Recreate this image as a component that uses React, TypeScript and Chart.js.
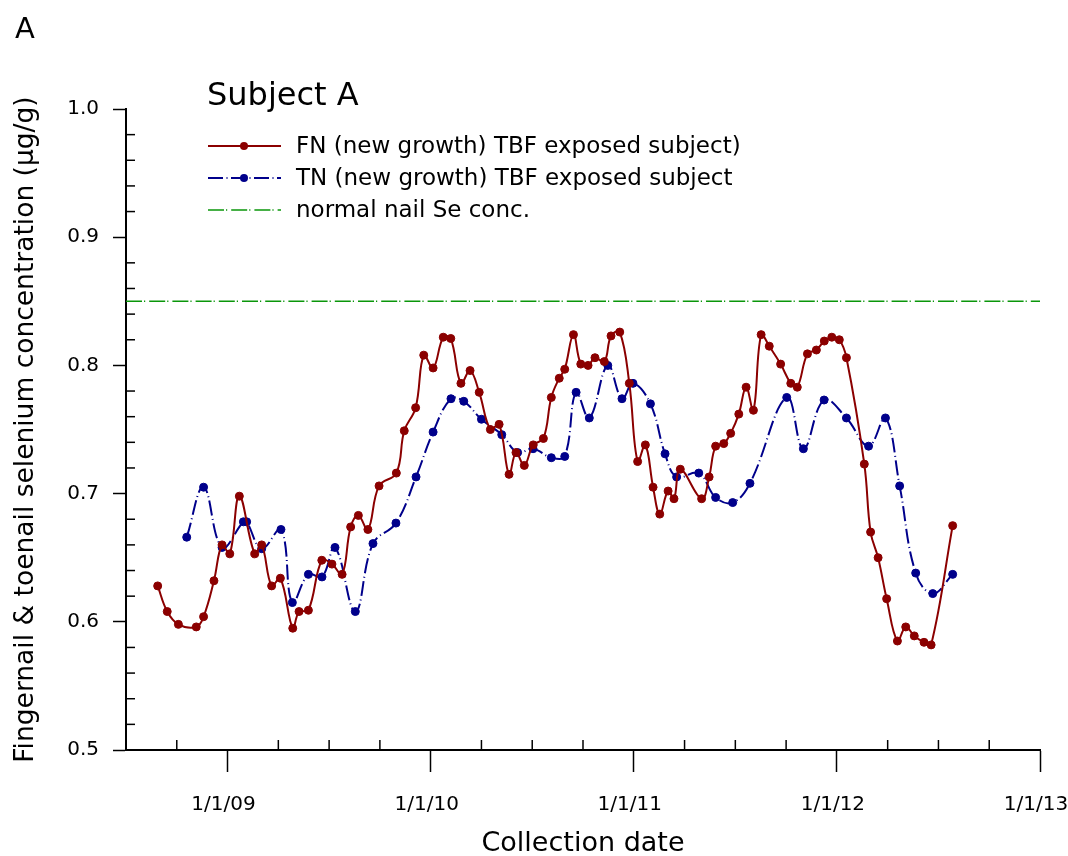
import React, { useEffect, useRef } from 'react';
import { Chart, registerables } from 'chart.js';

Chart.register(...registerables);

const panelLabel = 'A';
const chartTitle = 'Subject A';
const legendLabels = [
  'FN (new growth) TBF exposed subject)',
  'TN (new growth) TBF exposed subject',
  'normal nail Se conc.',
];
const xAxisTitle = 'Collection date';
const yAxisTitle = 'Fingernail & toenail selenium concentration (μg/g)';

const yearTicks = [2009, 2010, 2011, 2012, 2013];
const yearTickLabels = ['1/1/09', '1/1/10', '1/1/11', '1/1/12', '1/1/13'];

const fnDates = [
  2008.656, 2008.703, 2008.758, 2008.846, 2008.882, 2008.933, 2008.973, 2009.011, 2009.058,
  2009.134, 2009.168, 2009.217, 2009.26, 2009.321, 2009.352, 2009.398, 2009.464, 2009.514,
  2009.564, 2009.606, 2009.644, 2009.691, 2009.746, 2009.831, 2009.87, 2009.926, 2009.966,
  2010.012, 2010.062, 2010.099, 2010.149, 2010.194, 2010.239, 2010.294, 2010.337, 2010.386,
  2010.42, 2010.461, 2010.505, 2010.555, 2010.594, 2010.633, 2010.66, 2010.703, 2010.739,
  2010.775, 2010.809, 2010.855, 2010.888, 2010.931, 2010.978, 2011.019, 2011.057, 2011.095,
  2011.128, 2011.169, 2011.198, 2011.229, 2011.334, 2011.371, 2011.403, 2011.443, 2011.477,
  2011.517, 2011.553, 2011.589, 2011.627, 2011.667, 2011.723, 2011.773, 2011.805, 2011.855,
  2011.899, 2011.938, 2011.975, 2012.012, 2012.047, 2012.135, 2012.166, 2012.203, 2012.245,
  2012.298, 2012.339, 2012.381, 2012.429, 2012.464, 2012.57,
];
const fnValues = [
  0.628, 0.608, 0.598, 0.596, 0.604, 0.632, 0.66, 0.653, 0.698,
  0.653, 0.66, 0.628, 0.634, 0.595, 0.608, 0.609, 0.648, 0.645,
  0.637, 0.674, 0.683, 0.672, 0.706, 0.716, 0.749, 0.767, 0.808,
  0.798, 0.822, 0.821, 0.786, 0.796, 0.779, 0.75, 0.754, 0.715,
  0.732, 0.722, 0.738, 0.743, 0.775, 0.79, 0.797, 0.824, 0.801,
  0.8, 0.806, 0.803, 0.823, 0.826, 0.786, 0.725, 0.738, 0.705,
  0.684, 0.702, 0.696, 0.719, 0.696, 0.713, 0.737, 0.739, 0.747,
  0.762, 0.783, 0.765, 0.824, 0.815, 0.801, 0.786, 0.783, 0.809,
  0.812, 0.819, 0.822, 0.82, 0.806, 0.723, 0.67, 0.65, 0.618,
  0.585, 0.596, 0.589, 0.584, 0.582, 0.675,
];

const tnDates = [
  2008.799, 2008.882, 2008.973, 2009.078, 2009.094, 2009.168, 2009.263, 2009.319, 2009.398,
  2009.465, 2009.529, 2009.629, 2009.716, 2009.829, 2009.928, 2010.012, 2010.1, 2010.163,
  2010.25, 2010.35, 2010.428, 2010.504, 2010.594, 2010.66, 2010.716, 2010.781, 2010.872,
  2010.942, 2010.996, 2011.082, 2011.154, 2011.211, 2011.32, 2011.403, 2011.487, 2011.572,
  2011.753, 2011.835, 2011.937, 2012.047, 2012.156, 2012.239, 2012.309, 2012.388, 2012.472,
  2012.57,
];
const tnValues = [
  0.666, 0.705, 0.658, 0.678, 0.678, 0.657, 0.672, 0.615, 0.637,
  0.635, 0.658, 0.608, 0.661, 0.677, 0.713, 0.748, 0.774, 0.772,
  0.758, 0.746, 0.732, 0.735, 0.728, 0.729, 0.779, 0.759, 0.8,
  0.774, 0.786, 0.77, 0.731, 0.713, 0.716, 0.697, 0.693, 0.708,
  0.775, 0.735, 0.773, 0.759, 0.737, 0.759, 0.706, 0.638, 0.622,
  0.637,
];

const normalDates = [2008.5, 2013];
const normalValues = [0.85, 0.85];

const RED = '#8b0000';
const BLUE = '#00008b';
const GREEN = '#0a960a';
const BLUE_DASH = [15, 3.5, 1, 3.5];
const GREEN_DASH = [16, 2, 1.2, 4];
const FONT = 'DejaVu Sans';

const decorPlugin = {
  id: 'decor',
  afterDraw(chart: any) {
    const ctx = chart.ctx as CanvasRenderingContext2D;
    const xs = chart.scales.x;
    const ys = chart.scales.y;
    const area = chart.chartArea;
    ctx.save();
    // minor ticks (inward)
    ctx.strokeStyle = '#000';
    ctx.lineWidth = 1.5;
    ctx.setLineDash([]);
    for (let i = 1; i < 25; i++) {
      if (i % 5 === 0) continue;
      const py = ys.getPixelForValue(0.5 + i * 0.02);
      ctx.beginPath();
      ctx.moveTo(area.left, py);
      ctx.lineTo(area.left + 9, py);
      ctx.stroke();
    }
    for (let q = 1; q < 18; q++) {
      if ((q + 2) % 4 === 0) continue;
      const v = 2008.5 + q * 0.25;
      const px = xs.getPixelForValue(v);
      ctx.beginPath();
      ctx.moveTo(px, area.bottom);
      ctx.lineTo(px, area.bottom - 10);
      ctx.stroke();
    }
    // panel label and title
    ctx.fillStyle = '#000';
    ctx.textAlign = 'left';
    ctx.textBaseline = 'alphabetic';
    ctx.font = `29px "${FONT}"`;
    ctx.fillText(panelLabel, 15, 38);
    ctx.font = `32px "${FONT}"`;
    ctx.fillText(chartTitle, 207, 105);
    // legend
    const colors = [RED, BLUE, GREEN];
    const dashes = [[], BLUE_DASH, GREEN_DASH];
    const widths = [2, 2, 1.6];
    for (let i = 0; i < legendLabels.length; i++) {
      const y = 146 + i * 32;
      ctx.strokeStyle = colors[i];
      ctx.lineWidth = widths[i];
      ctx.setLineDash(dashes[i]);
      ctx.beginPath();
      ctx.moveTo(208, y);
      ctx.lineTo(281, y);
      ctx.stroke();
      ctx.setLineDash([]);
      if (i < 2) {
        ctx.fillStyle = colors[i];
        ctx.beginPath();
        ctx.arc(244, y, 4, 0, Math.PI * 2);
        ctx.fill();
      }
      ctx.fillStyle = '#000';
      ctx.font = `23px "${FONT}"`;
      ctx.textBaseline = 'middle';
      ctx.fillText(legendLabels[i], 296, y + 1);
    }
    ctx.restore();
  },
};

export default function App() {
  const ref = useRef<HTMLCanvasElement | null>(null);
  useEffect(() => {
    if (!ref.current) return;
    Chart.defaults.font.family = FONT;
    Chart.defaults.color = '#000';
    const chart = new Chart(ref.current, {
      type: 'line',
      data: {
        datasets: [
          {
            label: legendLabels[0],
            data: fnDates.map((d, i) => ({ x: d, y: fnValues[i] })),
            borderColor: RED,
            backgroundColor: RED,
            pointBackgroundColor: RED,
            pointBorderColor: RED,
            borderWidth: 2,
            pointRadius: 4,
            pointBorderWidth: 1,
            tension: 0.4,
            fill: false,
          },
          {
            label: legendLabels[1],
            data: tnDates.map((d, i) => ({ x: d, y: tnValues[i] })),
            borderColor: BLUE,
            backgroundColor: BLUE,
            pointBackgroundColor: BLUE,
            pointBorderColor: BLUE,
            borderWidth: 2,
            borderDash: BLUE_DASH,
            pointRadius: 4,
            pointBorderWidth: 1,
            tension: 0.4,
            fill: false,
          },
          {
            label: legendLabels[2],
            data: normalDates.map((d, i) => ({ x: d, y: normalValues[i] })),
            borderColor: GREEN,
            borderWidth: 1.6,
            borderDash: GREEN_DASH,
            pointRadius: 0,
            fill: false,
          },
        ],
      },
      options: {
        responsive: false,
        animation: false,
        events: [],
        layout: { padding: { left: 0, right: 28, top: 109, bottom: 0 } },
        plugins: {
          legend: { display: false },
          tooltip: { enabled: false },
          title: { display: false },
        },
        scales: {
          x: {
            type: 'linear',
            min: 2008.5,
            max: 2013,
            afterBuildTicks: (s: any) => {
              s.ticks = yearTicks.map((v) => ({ value: v }));
            },
            afterFit: (s: any) => {
              s.height = 106;
              s.paddingLeft = 0;
              s.paddingRight = 0;
            },
            ticks: {
              autoSkip: false,
              maxRotation: 0,
              padding: 21,
              labelOffset: -4,
              font: { size: 20 },
              color: '#000',
              callback: (_v: any, i: number) => yearTickLabels[i],
            },
            grid: {
              display: true,
              drawOnChartArea: false,
              drawTicks: true,
              tickLength: 22,
              tickColor: '#000',
              tickWidth: 1.5,
            },
            border: { display: true, color: '#000', width: 2 },
            title: {
              display: true,
              text: xAxisTitle,
              font: { size: 27 },
              color: '#000',
              padding: { top: 0, bottom: -4 },
            },
          },
          y: {
            type: 'linear',
            min: 0.5,
            max: 1.0,
            afterBuildTicks: (s: any) => {
              const t = [];
              for (let i = 0; i <= 5; i++) t.push({ value: 0.5 + i * 0.1 });
              s.ticks = t;
            },
            afterFit: (s: any) => {
              s.width = 126;
              s.paddingTop = 0;
              s.paddingBottom = 0;
            },
            ticks: {
              padding: 14,
              font: { size: 20 },
              color: '#000',
              callback: (v: any) => Number(v).toFixed(1),
            },
            grid: {
              display: true,
              drawOnChartArea: false,
              drawTicks: true,
              tickLength: 13,
              tickColor: '#000',
              tickWidth: 1.5,
            },
            border: { display: true, color: '#000', width: 2 },
            title: {
              display: true,
              text: yAxisTitle,
              font: { size: 26.5 },
              color: '#000',
              padding: { top: 10, bottom: 0 },
            },
          },
        },
      },
      plugins: [decorPlugin],
    } as any);
    return () => chart.destroy();
  }, []);
  return (
    <div style={{ position: 'fixed', left: 0, top: 0, width: 1068, height: 856, background: '#fff' }}>
      <canvas ref={ref} width={1068} height={856} style={{ display: 'block' }} />
    </div>
  );
}
